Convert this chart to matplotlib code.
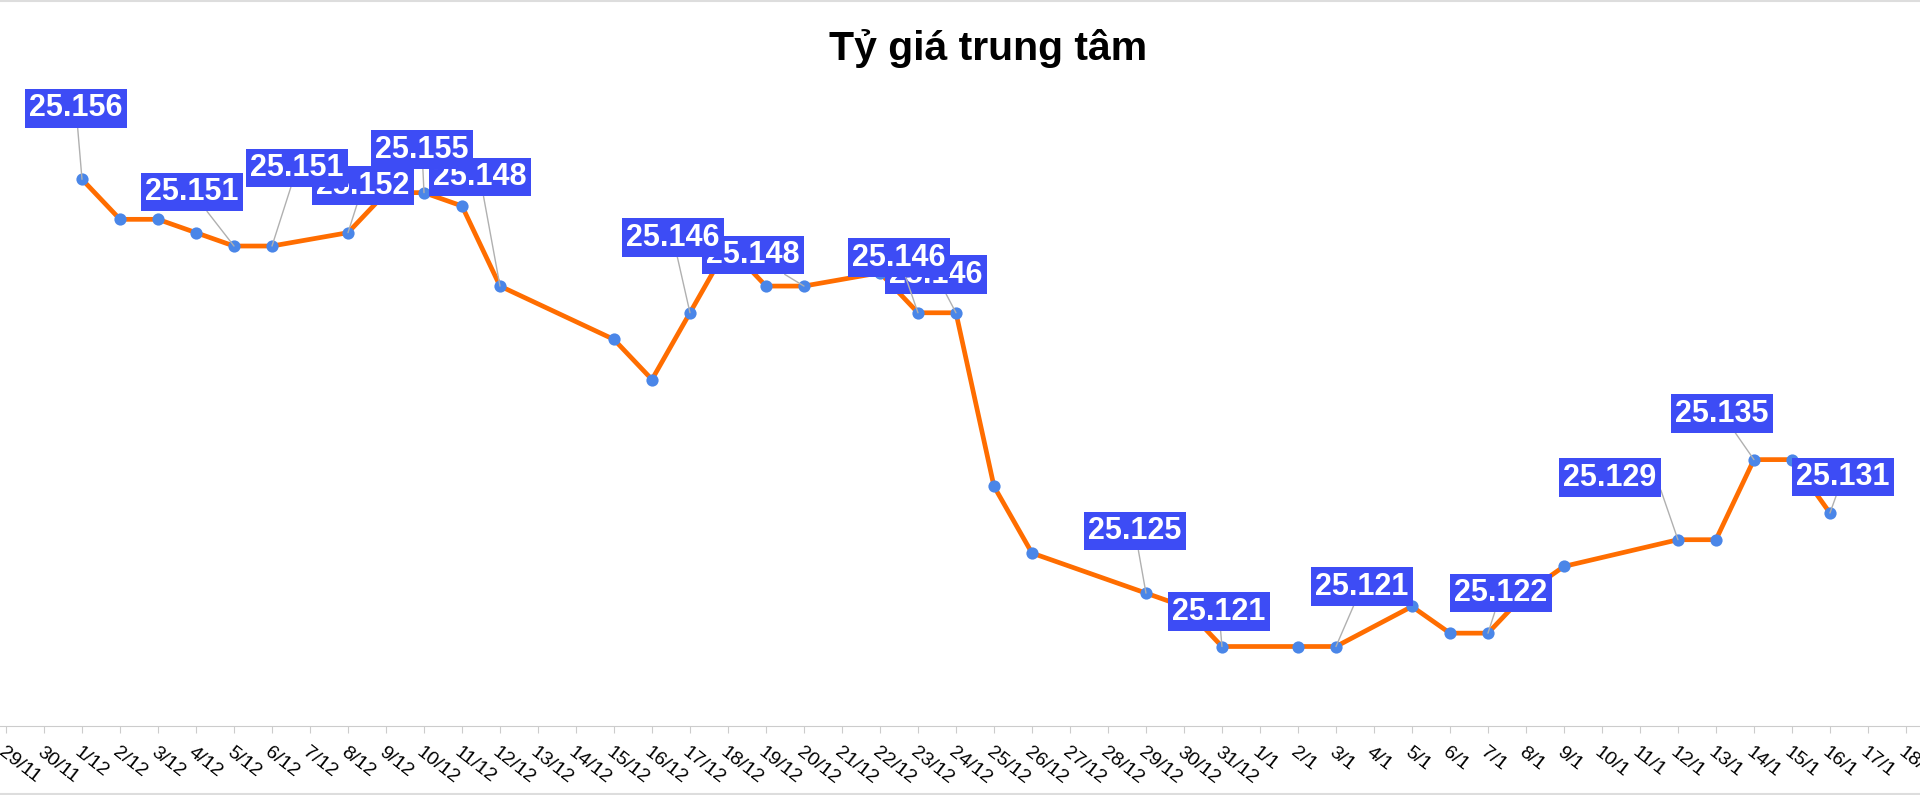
import datetime as dt

import matplotlib
matplotlib.use("Agg")
import matplotlib.pyplot as plt
import matplotlib.dates as mdates
from matplotlib.lines import Line2D
from matplotlib.ticker import FuncFormatter

plt.rcParams['font.family'] = ['Liberation Sans', 'DejaVu Sans']

# central rate (thousand VND / USD), day/month
days = ["1/12", "2/12", "3/12", "4/12", "5/12", "6/12", "8/12", "9/12",
        "10/12", "11/12", "12/12", "15/12", "16/12", "17/12", "18/12",
        "19/12", "20/12", "22/12", "23/12", "24/12", "25/12", "26/12",
        "29/12", "30/12", "31/12", "2/1", "3/1", "5/1", "6/1", "7/1",
        "8/1", "9/1", "12/1", "13/1", "14/1", "15/1", "16/1"]
rates = [25.156, 25.153, 25.153, 25.152, 25.151, 25.151, 25.152, 25.155,
         25.155, 25.154, 25.148, 25.144, 25.141, 25.146, 25.151,
         25.148, 25.148, 25.149, 25.146, 25.146, 25.133, 25.128,
         25.125, 25.124, 25.121, 25.121, 25.121, 25.124, 25.122, 25.122,
         25.125, 25.127, 25.129, 25.129, 25.135, 25.135, 25.131]

# points that carry a value label
labeled = ["1/12", "5/12", "6/12", "8/12", "10/12", "12/12", "17/12",
           "20/12", "23/12", "24/12", "29/12", "31/12", "3/1", "7/1",
           "12/1", "14/1", "16/1"]

# label box offsets from the point, in pixels (layout only)
label_offsets = [(-6, 71), (-42, 54), (25, 78), (15, 47), (-2, 43),
                 (-20, 109), (-17, 75), (-51, 31), (-19, 55), (-20, 38),
                 (-11, 62), (-3, 35), (26, 60), (13, 40), (-68, 62),
                 (-32, 46), (13, 36)]


def to_date(s):
    d, m = (int(p) for p in s.split("/"))
    return dt.datetime(2025 if m == 12 else 2026, m, d)


x = [to_date(s) for s in days]

fig = plt.figure(figsize=(19.2, 7.95), dpi=100)
ax = fig.add_axes([0, 69 / 795, 1, 726 / 795])

ax.plot(x, rates, color='#ff6d00', lw=3.4, zorder=2)
ax.plot(x, rates, 'o', color='#4a86e8', ms=8.8, mec='none', zorder=3)

n = len(labeled)
for i, (lab, off) in enumerate(zip(labeled, label_offsets)):
    j = days.index(lab)
    # the 12/1 leader leaves from the right side of its box
    rel = (1.0, 0.5) if lab == "12/1" else (0.5, 0.5)
    ax.annotate(f"{rates[j]:.3f}", xy=(x[j], rates[j]), xytext=off,
                textcoords='offset pixels', ha='center', va='center',
                fontsize=22, fontweight='bold', color='white',
                bbox=dict(boxstyle='square,pad=0.14', fc='#3d4cf5', ec='none'),
                arrowprops=dict(arrowstyle='-', color='#b0b0b0', lw=1,
                                shrinkA=0, shrinkB=0, relpos=rel),
                zorder=10 + n - i, annotation_clip=False)

start = dt.datetime(2025, 11, 29)
ax.set_xlim(mdates.date2num(start) - 0.158, mdates.date2num(start) + 50.37)
ax.set_ylim(25.115045, 25.16943)

ax.xaxis.set_major_locator(mdates.DayLocator())
ax.xaxis.set_major_formatter(FuncFormatter(
    lambda v, pos: "{d.day}/{d.month}".format(d=mdates.num2date(v))))
ax.tick_params(axis='x', direction='out', length=5, color='#cccccc',
               labelsize=14, pad=8)
plt.setp(ax.get_xticklabels(), rotation=-38, ha='left', va='top',
         rotation_mode='anchor')
ax.set_yticks([])
for side in ['left', 'right', 'top']:
    ax.spines[side].set_visible(False)
ax.spines['bottom'].set_color('#cccccc')
ax.patch.set_visible(False)

fig.text(988 / 1920, 1 - 60 / 795, "Tỷ giá trung tâm", ha='center',
         va='baseline', fontsize=29.5, fontweight='bold')

fig.add_artist(Line2D([0, 1], [1 - 1 / 795] * 2, color='#dddddd', lw=1.5))
fig.add_artist(Line2D([0, 1], [1 / 795] * 2, color='#dddddd', lw=1.5))

fig.savefig('out.png', dpi=100)
